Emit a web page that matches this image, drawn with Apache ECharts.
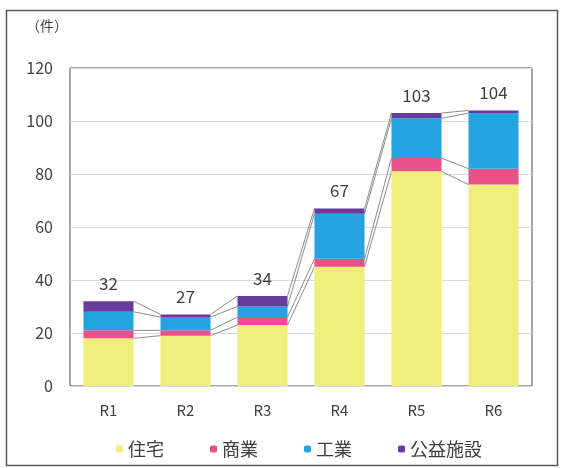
<!DOCTYPE html>
<html>
<head>
<meta charset="utf-8">
<script src="https://cdn.jsdelivr.net/npm/echarts@6/dist/echarts.min.js"></script>
<style>
  html, body { margin: 0; padding: 0; background: #ffffff; }
  #chart { width: 561px; height: 468px; }
</style>
</head>
<body>
<div id="chart"></div>
<script>
// 年度別の件数（用途別の内訳）
const categories = ['R1', 'R2', 'R3', 'R4', 'R5', 'R6'];
const housing = [18, 19, 23, 45, 81, 76];          // 住宅
const commerce = [3, 2, 3, 3, 5, 6];               // 商業
const industry = [7, 5, 4, 17, 15, 21];            // 工業
const publicFacilities = [4, 1, 4, 2, 2, 1];       // 公益施設
const yTicks = { min: 0, max: 120, interval: 20 };

const seriesNames = ['住宅', '商業', '工業', '公益施設'];
const seriesValues = [housing, commerce, industry, publicFacilities];
const colors = ['#EFEE7A', '#E8508A', '#24A3E0', '#673C9C'];
const FONT = '"Noto Sans CJK JP", "Noto Sans", sans-serif';
const TEXT = '#404040';
const BAR_RATIO = 0.65;

// running totals per level, used by the connector lines
const cumulative = [];
seriesValues.forEach((vals, k) => {
  cumulative.push(vals.map((v, i) => v + (k > 0 ? cumulative[k - 1][i] : 0)));
});
const totals = cumulative[cumulative.length - 1];

const barSeries = seriesValues.map((vals, k) => ({
  name: seriesNames[k],
  type: 'bar',
  stack: 'total',
  barWidth: (BAR_RATIO * 100) + '%',
  data: vals,
  itemStyle: { color: colors[k] },
  emphasis: { disabled: true },
  label: k === seriesValues.length - 1 ? {
    show: true,
    position: 'top',
    distance: 9,
    color: TEXT,
    fontFamily: FONT,
    fontSize: 17,
    formatter: p => String(totals[p.dataIndex])
  } : { show: false },
  z: 3
}));

// series lines joining the top of each segment between neighbouring bars
const connectorSeries = {
  type: 'custom',
  silent: true,
  z: 2,
  data: categories.slice(0, -1).map((c, i) => [i, 0]),
  encode: { x: 0, y: 1 },
  renderItem: function (params, api) {
    const i = params.dataIndex;
    const half = api.size([1, 0])[0] * BAR_RATIO / 2;
    const children = cumulative.map(level => {
      const a = api.coord([i, level[i]]);
      const b = api.coord([i + 1, level[i + 1]]);
      return {
        type: 'line',
        shape: { x1: a[0] + half, y1: a[1], x2: b[0] - half, y2: b[1] },
        style: { stroke: '#8c8c8c', lineWidth: 1 }
      };
    });
    return { type: 'group', children: children };
  }
};

const chart = echarts.init(document.getElementById('chart'), null, { renderer: 'canvas' });
chart.setOption({
  animation: false,
  backgroundColor: '#ffffff',
  textStyle: { fontFamily: FONT },
  graphic: [
    {
      type: 'rect',
      shape: { x: 6.5, y: 10.5, width: 551, height: 455 },
      style: { fill: 'none', stroke: '#5a5a5a', lineWidth: 1.5 },
      silent: true
    },
    {
      type: 'text',
      left: 26,
      top: 19,
      style: { text: '（件）', fill: TEXT, font: '14px ' + FONT }
    }
  ],
  grid: {
    left: 70, top: 68, right: 29, bottom: 82,
    show: true, borderColor: '#4a4a4a', borderWidth: 1, backgroundColor: '#ffffff'
  },
  legend: {
    left: 111,
    top: 435,
    itemWidth: 7,
    itemHeight: 7,
    itemGap: 46,
    icon: 'roundRect',
    data: seriesNames,
    textStyle: { color: TEXT, fontFamily: FONT, fontSize: 18 }
  },
  xAxis: {
    type: 'category',
    data: categories,
    axisLine: { show: false },
    axisTick: { show: false },
    axisLabel: { color: TEXT, fontFamily: FONT, fontSize: 15, margin: 17 }
  },
  yAxis: {
    type: 'value',
    min: yTicks.min,
    max: yTicks.max,
    interval: yTicks.interval,
    axisLine: { show: false },
    axisTick: { show: false },
    splitLine: { lineStyle: { color: '#d9d9d9', width: 1 } },
    axisLabel: { color: TEXT, fontFamily: FONT, fontSize: 16, margin: 17 }
  },
  series: barSeries.concat([connectorSeries])
});
</script>
</body>
</html>
